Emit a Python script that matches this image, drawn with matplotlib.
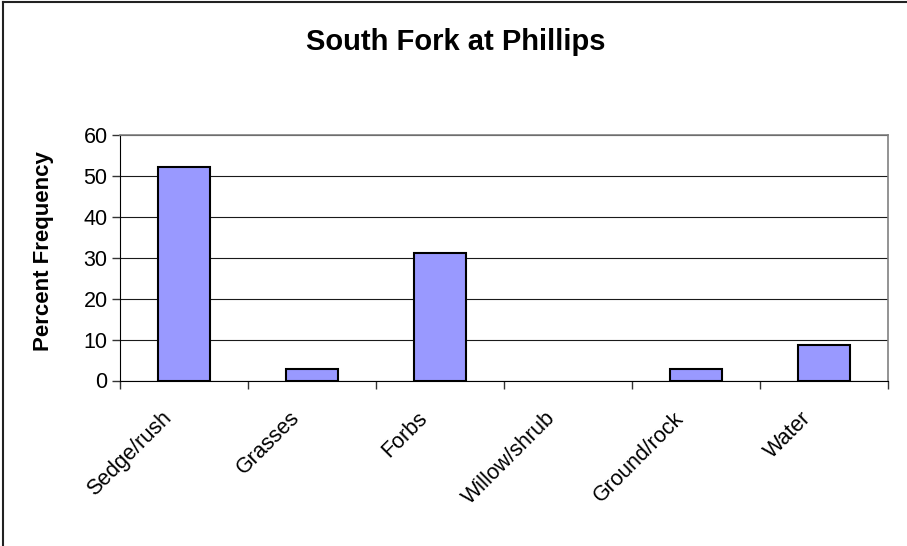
import matplotlib.pyplot as plt
from matplotlib.lines import Line2D
from matplotlib.transforms import ScaledTranslation

categories = ['Sedge/rush', 'Grasses', 'Forbs', 'Willow/shrub', 'Ground/rock', 'Water']
percent_freq = [52.2, 2.9, 31.2, 0, 2.9, 8.7]
y_ticks = [0, 10, 20, 30, 40, 50, 60]

plt.rcParams['font.family'] = ['Liberation Sans', 'DejaVu Sans']

fig = plt.figure(figsize=(9.07, 5.46), dpi=100)
ax = fig.add_axes([120 / 907, 1 - 380.5 / 546, 768 / 907, 245.5 / 546])

xs = list(range(len(categories)))
# empty categories get no outline
edges = ['black' if v > 0 else 'none' for v in percent_freq]
ax.bar(xs, percent_freq, width=0.4, color='#9999ff', edgecolor=edges,
       linewidth=1.5, zorder=3)

ax.set_xlim(-0.5, len(categories) - 0.5)
ax.set_ylim(0, 60)
ax.set_yticks(y_ticks)
ax.set_yticklabels([str(v) for v in y_ticks], fontsize=15.5)
ax.yaxis.grid(True, color='#1a1a1a', linewidth=0.8, zorder=0)

# category ticks sit between the bars, labels under each bar
ax.set_xticks([x - 0.5 for x in range(len(categories) + 1)])
ax.set_xticklabels([])
ax.set_xticks(xs, minor=True)
ax.set_xticklabels(categories, minor=True, rotation=45, ha='right', va='top',
                   rotation_mode='anchor', fontsize=15.5)
ax.tick_params(axis='x', which='minor', length=0, pad=0)
ax.tick_params(axis='x', which='major', length=6, width=1, color='#333333')
ax.tick_params(axis='y', length=6, width=1, color='#333333', pad=3)

shift = ScaledTranslation(-23 / 100, -27 / 100, fig.dpi_scale_trans)
for lbl in ax.get_xticklabels(minor=True):
    lbl.set_transform(lbl.get_transform() + shift)

ax.spines['left'].set_color('black')
ax.spines['bottom'].set_color('black')
ax.spines['bottom'].set_zorder(4)
for side in ['top', 'right']:
    ax.spines[side].set_color('#808080')
    ax.spines[side].set_linewidth(1.2)

fig.text(0.503, 1 - 42 / 546, 'South Fork at Phillips', ha='center', va='center',
         fontsize=21, fontweight='bold')
fig.text(44 / 907, 1 - 251 / 546, 'Percent Frequency', ha='center', va='center',
         rotation=90, fontsize=16, fontweight='bold')

# chart frame along the left and top edges
fig.add_artist(Line2D([3 / 907, 3 / 907], [0, 1 - 2 / 546], color='#222222', linewidth=1.5))
fig.add_artist(Line2D([3 / 907, 1], [1 - 2 / 546, 1 - 2 / 546], color='#222222', linewidth=1.5))

fig.savefig('out.png', dpi=100)
